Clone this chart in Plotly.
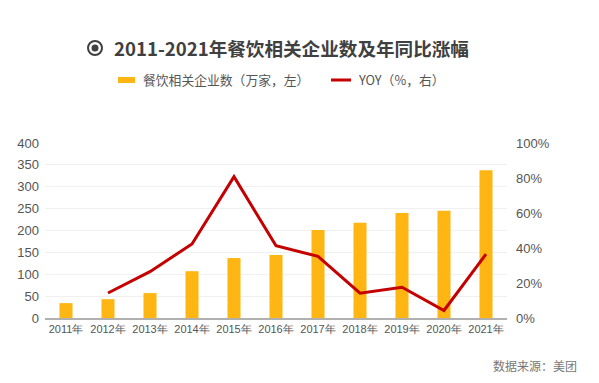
import plotly.graph_objects as go

years = ["2011年", "2012年", "2013年", "2014年", "2015年", "2016年",
         "2017年", "2018年", "2019年", "2020年", "2021年"]
firms = [34, 43, 57, 107, 137, 144, 201, 218, 240, 245, 338]
yoy_years = years[1:]
yoy = [14.3, 26.5, 42.3, 80.8, 41.3, 35.2, 14.2, 17.6, 4.3, 36.5]
left_ticks = [0, 50, 100, 150, 200, 250, 300, 350, 400]
right_ticks = [0, 20, 40, 60, 80, 100]

BAR = "#FFB512"
LINE = "#C40000"
CJK = "Noto Sans CJK SC"
NUM = "Liberation Sans"

fig = go.Figure()
fig.add_trace(go.Bar(x=years, y=firms, marker=dict(color=BAR, line=dict(width=0)),
                     name="餐饮相关企业数（万家，左）", yaxis="y"))
fig.add_trace(go.Scatter(x=yoy_years, y=yoy, mode="lines",
                         line=dict(color=LINE, width=3), name="YOY（%，右）", yaxis="y2"))

W, H = 599, 383
L, R, T, B = 45, 92, 143, 65

fig.update_layout(
    width=W, height=H,
    margin=dict(l=L, r=R, t=T, b=B, autoexpand=False),
    paper_bgcolor="white", plot_bgcolor="white",
    showlegend=False,
    bargap=0.69,
    xaxis=dict(showgrid=False, showline=True, linecolor="#b0b0b0", linewidth=1.5,
               ticks="", tickfont=dict(family=NUM, size=11, color="#555"),
               automargin=False, fixedrange=True),
    yaxis=dict(range=[0, 400], tickvals=left_ticks, showgrid=True, gridcolor="#f0f0f0",
               gridwidth=1, zeroline=False, showline=False, ticks="",
               ticklabelstandoff=5, automargin=False,
               tickfont=dict(family=NUM, size=13, color="#555")),
    yaxis2=dict(range=[0, 100], tickvals=right_ticks, ticktext=[f"{v}%" for v in right_ticks],
                overlaying="y", side="right", showgrid=False, zeroline=False,
                showline=False, ticks="", ticklabelstandoff=8, automargin=False,
                tickfont=dict(family=NUM, size=13, color="#555")),
)

def px(x):
    return (x - L) / (W - L - R)

def py(y):
    return (H - B - y) / (H - T - B)

# Title with icon
fig.add_shape(type="circle", xref="paper", yref="paper",
              x0=px(88), x1=px(102), y0=py(55), y1=py(41),
              line=dict(color="#404040", width=2))
fig.add_shape(type="circle", xref="paper", yref="paper",
              x0=px(91.5), x1=px(98.5), y0=py(51.5), y1=py(44.5),
              fillcolor="#404040", line=dict(width=0))

fig.add_annotation(text="<b>2011-2021年餐饮相关企业数及年同比涨幅</b>", xref="paper", yref="paper",
                   x=px(112), y=py(48), xanchor="left", yanchor="middle", showarrow=False,
                   font=dict(family=CJK, size=18.6, color="#404040"))

# Legend
fig.add_shape(type="rect", xref="paper", yref="paper", x0=px(118), x1=px(135),
              y0=py(83), y1=py(77), fillcolor=BAR, line=dict(width=0))
fig.add_annotation(text="餐饮相关企业数（万家，左）", xref="paper", yref="paper",
                   x=px(141), y=py(80), xanchor="left", yanchor="middle", showarrow=False,
                   font=dict(family=CJK, size=12.8, color="#555"))
fig.add_shape(type="line", xref="paper", yref="paper", x0=px(331), x1=px(351),
              y0=py(80), y1=py(80), line=dict(color=LINE, width=3))
fig.add_annotation(text="YOY（%，右）", xref="paper", yref="paper",
                   x=px(356), y=py(80), xanchor="left", yanchor="middle", showarrow=False,
                   font=dict(family=CJK, size=12.8, color="#555"))

# Source
fig.add_annotation(text="数据来源：美团", xref="paper", yref="paper",
                   x=px(579), y=py(365), xanchor="right", yanchor="middle", showarrow=False,
                   font=dict(family=CJK, size=12, color="#777"))

fig.write_html("out.html", config={"displayModeBar": False},
               post_script="document.body.style.margin='0';")
